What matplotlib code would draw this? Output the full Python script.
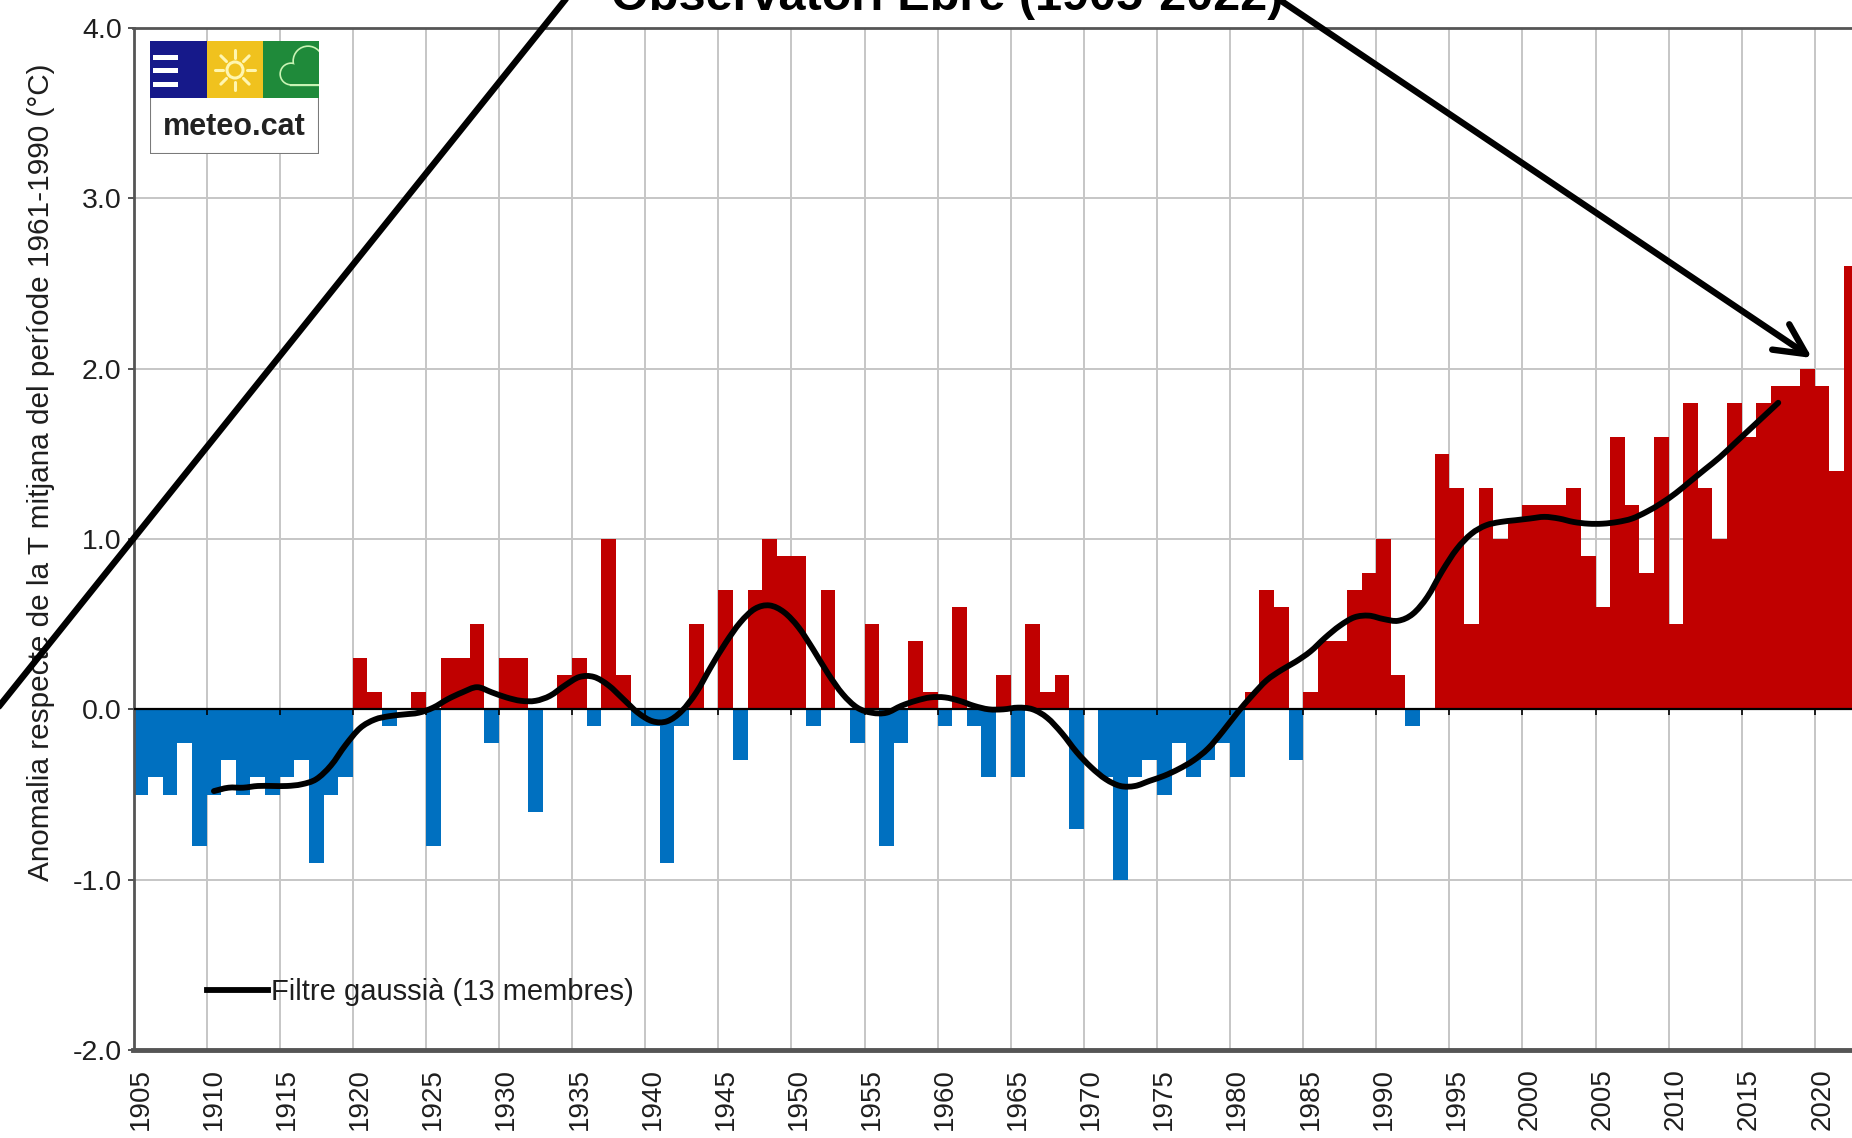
import math

import matplotlib
import matplotlib.pyplot as plt
from matplotlib.lines import Line2D
from matplotlib.patches import Circle, PathPatch, Rectangle
from matplotlib.path import Path

matplotlib.use("Agg")

plt.rcParams["font.family"] = ["Liberation Sans", "DejaVu Sans"]

# ---- data ----
YEARS = list(range(1905, 2023))
ANOMALY = [
    -0.5, -0.4, -0.5, -0.2, -0.8, -0.5, -0.3, -0.5, -0.4, -0.5,   # 1905-1914
    -0.4, -0.3, -0.9, -0.5, -0.4, 0.3, 0.1, -0.1, 0.0, 0.1,       # 1915-1924
    -0.8, 0.3, 0.3, 0.5, -0.2, 0.3, 0.3, -0.6, 0.0, 0.2,          # 1925-1934
    0.3, -0.1, 1.0, 0.2, -0.1, -0.1, -0.9, -0.1, 0.5, 0.0,        # 1935-1944
    0.7, -0.3, 0.7, 1.0, 0.9, 0.9, -0.1, 0.7, 0.0, -0.2,          # 1945-1954
    0.5, -0.8, -0.2, 0.4, 0.1, -0.1, 0.6, -0.1, -0.4, 0.2,        # 1955-1964
    -0.4, 0.5, 0.1, 0.2, -0.7, 0.0, -0.4, -1.0, -0.4, -0.3,       # 1965-1974
    -0.5, -0.2, -0.4, -0.3, -0.2, -0.4, 0.1, 0.7, 0.6, -0.3,      # 1975-1984
    0.1, 0.4, 0.4, 0.7, 0.8, 1.0, 0.2, -0.1, 0.0, 1.5,            # 1985-1994
    1.3, 0.5, 1.3, 1.0, 1.1, 1.2, 1.2, 1.2, 1.3, 0.9,             # 1995-2004
    0.6, 1.6, 1.2, 0.8, 1.6, 0.5, 1.8, 1.3, 1.0, 1.8,             # 2005-2014
    1.6, 1.8, 1.9, 1.9, 2.0, 1.9, 1.4, 2.6,                       # 2015-2022
]

FILTER_YEARS = list(range(1910, 2018))
FILTER = [
    -0.48, -0.46, -0.46, -0.45, -0.45, -0.45, -0.44, -0.41, -0.33, -0.21,  # 1910-1919
    -0.11, -0.06, -0.04, -0.03, -0.02, 0.01, 0.06, 0.10, 0.13, 0.10,       # 1920-1929
    0.07, 0.05, 0.05, 0.08, 0.14, 0.19, 0.19, 0.14, 0.06, -0.02,           # 1930-1939
    -0.07, -0.07, -0.01, 0.10, 0.25, 0.39, 0.51, 0.59, 0.61, 0.57,         # 1940-1949
    0.48, 0.35, 0.21, 0.09, 0.01, -0.02, -0.02, 0.02, 0.05, 0.07,          # 1950-1959
    0.07, 0.05, 0.02, 0.00, 0.00, 0.01, 0.00, -0.05, -0.14, -0.25,         # 1960-1969
    -0.34, -0.41, -0.45, -0.45, -0.42, -0.39, -0.35, -0.30, -0.23, -0.13,  # 1970-1979
    -0.02, 0.08, 0.17, 0.23, 0.28, 0.34, 0.42, 0.49, 0.54, 0.55,           # 1980-1989
    0.53, 0.52, 0.56, 0.66, 0.81, 0.94, 1.03, 1.08, 1.10, 1.11,            # 1990-1999
    1.12, 1.13, 1.12, 1.10, 1.09, 1.09, 1.10, 1.12, 1.16, 1.21,            # 2000-2009
    1.27, 1.34, 1.41, 1.48, 1.56, 1.64, 1.72, 1.80,                        # 2010-2017
]

TITLE = "Observatori Ebre (1905-2022)"
YLABEL = "Anomalia respecte de la T mitjana del període 1961-1990 (°C)"
LEGEND_LABEL = "Filtre gaussià (13 membres)"
Y_TICKS = [-2.0, -1.0, 0.0, 1.0, 2.0, 3.0, 4.0]
X_TICK_YEARS = list(range(1905, 2021, 5))

RED = "#C00000"
BLUE = "#0070C0"
GRID = "#c6c6c6"
AXIS = "#555555"
TEXT = "#1e1e1e"

W, H = 1852, 1138


def smooth_path(xs, ys):
    """Excel-like smoothed line: Catmull-Rom segments through every point."""
    pts = list(zip(xs, ys))
    n = len(pts)
    verts = [pts[0]]
    codes = [Path.MOVETO]
    for i in range(n - 1):
        p0 = pts[i - 1] if i > 0 else pts[i]
        p1 = pts[i]
        p2 = pts[i + 1]
        p3 = pts[i + 2] if i + 2 < n else pts[i + 1]
        c1 = (p1[0] + (p2[0] - p0[0]) / 6, p1[1] + (p2[1] - p0[1]) / 6)
        c2 = (p2[0] - (p3[0] - p1[0]) / 6, p2[1] - (p3[1] - p1[1]) / 6)
        verts += [c1, c2, p2]
        codes += [Path.CURVE4] * 3
    return Path(verts, codes)


def draw_logo(fig):
    logo = fig.add_axes([150 / W, 1 - 154 / H, 169 / W, 113 / H])
    logo.set_xlim(0, 169)
    logo.set_ylim(113, 0)
    logo.axis("off")

    logo.add_patch(Rectangle((0, 0), 169, 113, facecolor="white",
                             edgecolor="#7a7a7a", lw=1.5))
    logo.add_patch(Rectangle((0, 0), 57, 57, facecolor="#16198a", lw=0))
    logo.add_patch(Rectangle((57, 0), 56, 57, facecolor="#f0c21e", lw=0))
    green = Rectangle((113, 0), 56, 57, facecolor="#1f8a3a", lw=0)
    logo.add_patch(green)

    # three white bars in the blue square
    for y in (14, 27, 41):
        logo.add_patch(Rectangle((3, y), 25, 5, facecolor="white", lw=0))

    # sun
    cx, cy = 85, 29
    logo.add_patch(Circle((cx, cy), 8, facecolor="none",
                          edgecolor="#fff6b0", lw=2.2))
    for k in range(8):
        ang = k * math.pi / 4
        x0, y0 = cx + 12 * math.cos(ang), cy + 12 * math.sin(ang)
        x1, y1 = cx + 20 * math.cos(ang), cy + 20 * math.sin(ang)
        logo.plot([x0, x1], [y0, y1], color="#fff6b0", lw=2.2,
                  solid_capstyle="round")

    # cloud outline, clipped to the green square
    def cloud_parts():
        return [Circle((141, 33), 10), Circle((158, 20), 14),
                Circle((178, 30), 13), Rectangle((141, 30), 45, 13)]

    for p in cloud_parts():
        p.set_facecolor("#1f8a3a")
        p.set_edgecolor("#c9f3b4")
        p.set_linewidth(2.4)
        logo.add_patch(p)
        p.set_clip_path(green)
    for p in cloud_parts():
        p.set_facecolor("#1f8a3a")
        p.set_linewidth(0)
        logo.add_patch(p)
        p.set_clip_path(green)

    logo.text(84.5, 86, "meteo.cat", ha="center", va="center",
              fontsize=22, fontweight="bold", color="#222222")


def main():
    fig = plt.figure(figsize=(W / 100, H / 100), dpi=100)
    fig.patch.set_facecolor("white")

    ax = fig.add_axes([133.5 / W, 88 / H, 1725.2 / W, 1022 / H])

    colors = [RED if v >= 0 else BLUE for v in ANOMALY]
    ax.bar(YEARS, ANOMALY, width=1.0, color=colors, linewidth=0, zorder=2)
    ax.axhline(0, color="black", lw=1.6, zorder=3)

    # small tick marks hanging under the zero line
    bounds = [y - 0.5 for y in X_TICK_YEARS[1:]]
    ax.vlines(bounds, -0.035, 0, color="black", lw=1.2, zorder=3)

    ax.add_patch(PathPatch(smooth_path(FILTER_YEARS, FILTER), fill=False,
                           edgecolor="black", lw=4.2, capstyle="round",
                           joinstyle="round", zorder=4))
    handle = Line2D([], [], color="black", lw=4.2, label=LEGEND_LABEL)

    ax.set_xlim(YEARS[0] - 0.5, YEARS[-1] + 0.5)
    ax.set_ylim(Y_TICKS[0], Y_TICKS[-1])
    ax.set_yticks(Y_TICKS)
    ax.set_yticklabels([f"{v:.1f}" for v in Y_TICKS])
    ax.set_xticks(X_TICK_YEARS)
    ax.set_xticklabels([str(y) for y in X_TICK_YEARS], rotation=90)
    ax.set_xticks(bounds, minor=True)

    ax.grid(axis="x", which="minor", color=GRID, lw=1.4, zorder=0)
    ax.grid(axis="y", which="major", color=GRID, lw=1.4, zorder=0)
    ax.set_axisbelow(True)

    ax.tick_params(axis="y", direction="out", length=4.5, width=1.4,
                   color=AXIS, labelsize=20.5, labelcolor=TEXT, pad=4)
    ax.tick_params(axis="x", which="major", length=0, labelsize=20,
                   labelcolor=TEXT, pad=13)
    ax.tick_params(axis="x", which="minor", length=0)

    for side in ("top", "left"):
        ax.spines[side].set_color(AXIS)
        ax.spines[side].set_linewidth(2)
    ax.spines["bottom"].set_color(AXIS)
    ax.spines["bottom"].set_linewidth(3.5)
    ax.spines["right"].set_visible(False)

    ax.legend(handles=[handle], loc="center left",
              bbox_to_anchor=(207 / W, 1 - 992 / H),
              bbox_transform=fig.transFigure, frameon=False,
              fontsize=21, handlelength=2.1, handletextpad=0.1,
              borderpad=0, borderaxespad=0, labelcolor=TEXT)

    fig.text(41 / W, 1 - 472 / H, YLABEL, rotation=90, ha="center",
             va="center", fontsize=21.4, color=TEXT)
    fig.text(947 / W, 1 - 10 / H, TITLE, ha="center", va="baseline",
             fontsize=35, fontweight="bold", color="black")

    draw_logo(fig)

    # hand-drawn marks over the chart
    fig.add_artist(Line2D([-0.01, 0.31], [0.36, 1.01], color="black",
                          lw=4.6, transform=fig.transFigure,
                          solid_capstyle="round", zorder=10))
    fig.add_artist(plt.Annotation(
        "", xy=(1812 / W, 1 - 358 / H), xycoords="figure fraction",
        xytext=(1268 / W, 1 + 8 / H), textcoords="figure fraction",
        arrowprops=dict(arrowstyle="->,head_length=1.1,head_width=0.55",
                        color="black", lw=4.6, mutation_scale=20,
                        shrinkA=0, shrinkB=0, capstyle="round",
                        joinstyle="round"),
        zorder=10))

    fig.savefig("out.png", dpi=100, facecolor="white")
    plt.close(fig)


if __name__ == "__main__":
    main()
